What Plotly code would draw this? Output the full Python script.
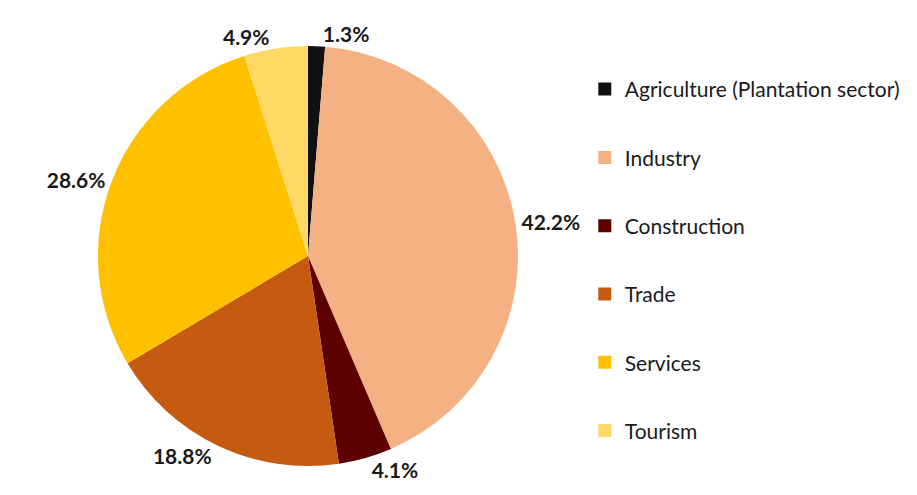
import plotly.graph_objects as go

categories = ["Agriculture (Plantation sector)", "Industry", "Construction", "Trade", "Services", "Tourism"]
shares = [1.3, 42.2, 4.1, 18.8, 28.6, 4.9]
colors = ["#111111", "#F4B183", "#5C0000", "#C55A11", "#FFC000", "#FFD966"]

W, H = 917, 495
cx, cy, r = 300, 248, 210

fig = go.Figure()
fig.add_trace(go.Pie(
    labels=categories,
    values=shares,
    marker=dict(colors=colors, line=dict(width=0)),
    sort=False,
    direction="clockwise",
    rotation=0,
    textposition="outside",
    texttemplate="<b>%{value:.1f}%</b>",
    textfont=dict(family="Lato", size=21, color="#1a1a1a"),
    showlegend=False,
    domain=dict(x=[(cx - r) / W, (cx + r) / W], y=[1 - (cy + r) / H, 1 - (cy - r) / H]),
    hoverinfo="label+percent",
))

for i, (c, col) in enumerate(zip(categories, colors)):
    fig.add_trace(go.Scatter(
        x=[None], y=[None], mode="markers", name=c,
        marker=dict(symbol="square", size=13, color=col),
        legendgroup=f"g{i}", showlegend=True,
    ))

fig.update_layout(
    width=W, height=H,
    margin=dict(l=0, r=0, t=0, b=0),
    paper_bgcolor="white", plot_bgcolor="white",
    xaxis=dict(visible=False), yaxis=dict(visible=False),
    legend=dict(
        x=0.629, y=0.491, xanchor="left", yanchor="middle",
        font=dict(family="Lato", size=21, color="#1a1a1a"),
        tracegroupgap=38, itemwidth=30,
    ),
)

fig.write_html("out.html")
